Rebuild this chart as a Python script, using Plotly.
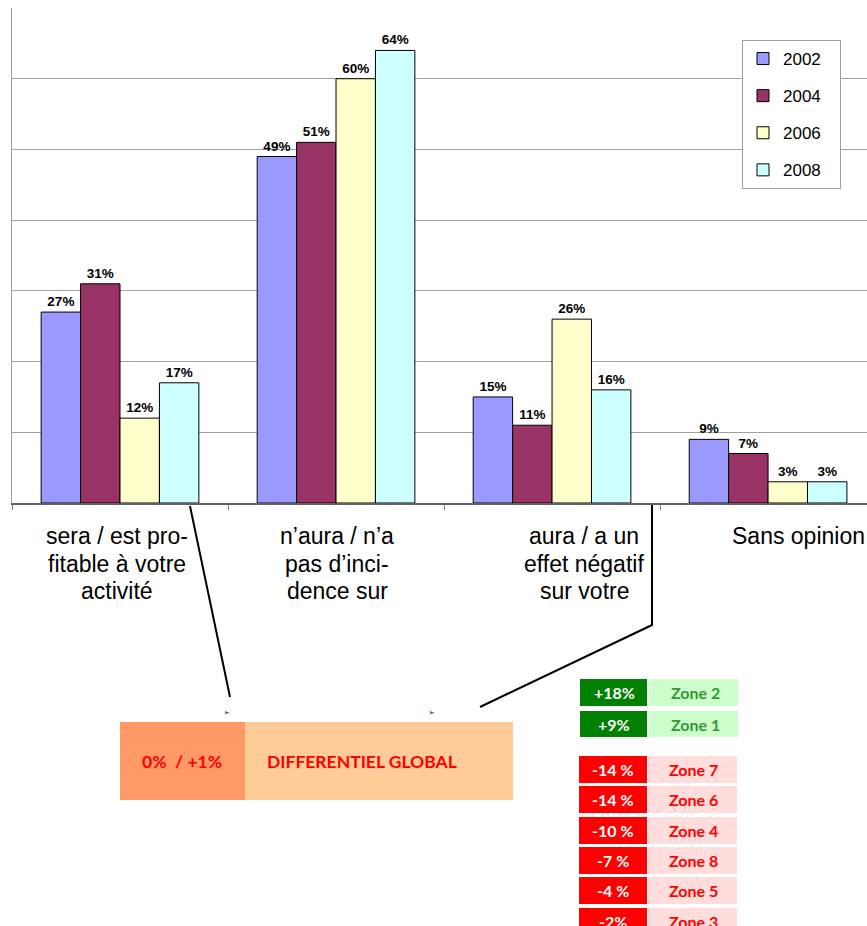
import plotly.graph_objects as go

categories = ["sera / est profitable", "n'aura / n'a pas d'incidence", "aura / a un effet négatif", "Sans opinion"]
cat_label_lines = [
    ["sera / est pro-", "fitable à votre", "activité"],
    ["n’aura / n’a", "pas d’inci-", "dence sur"],
    ["aura / a un", "effet négatif", "sur votre"],
    ["Sans opinion"],
]
years = ["2002", "2004", "2006", "2008"]
values = {
    "2002": [27, 49, 15, 9],
    "2004": [31, 51, 11, 7],
    "2006": [12, 60, 26, 3],
    "2008": [17, 64, 16, 3],
}
colors = {"2002": "#9999FF", "2004": "#993366", "2006": "#FFFFCC", "2008": "#CCFFFF"}

global_value = "0%  / +1%"
global_label = "DIFFERENTIEL GLOBAL"
zones_pos = ["Zone 2", "Zone 1"]
zones_pos_vals = ["+18%", "+9%"]
zones_neg = ["Zone 7", "Zone 6", "Zone 4", "Zone 8", "Zone 5", "Zone 3"]
zones_neg_vals = ["-14 %", "-14 %", "-10 %", "-7 %", "-4 %", "-2%"]

W, H = 867, 926
L, T, B_PX = 12, 8, 503
R_PX = W


def X(px):
    return (px - L) / (R_PX - L)


def Y(py):
    return (B_PX - py) / (B_PX - T)


fig = go.Figure()
for yr in years:
    fig.add_trace(go.Bar(
        x=categories, y=values[yr], name=yr + "\u00a0\u00a0\u00a0", legendgroup=yr,
        marker=dict(color=colors[yr], line=dict(color="#000000", width=1)),
        texttemplate="<b>%{y}%</b>", textposition="outside",
        textfont=dict(family="Liberation Sans", size=13.5, color="#000000"),
        constraintext="none", cliponaxis=False,
    ))

shapes = []
annotations = []

# category labels (one annotation per line)
shifts = [-3, 1, 32, None]
line_centers = [536, 564, 591]
for c, lines, s in zip(categories, cat_label_lines, shifts):
    for i, ln in enumerate(lines):
        if s is None:
            annotations.append(dict(
                x=X(730), xref="paper", y=Y(line_centers[i]), yref="paper",
                xanchor="left", yanchor="middle", text=ln, showarrow=False,
                font=dict(family="Liberation Sans", size=23, color="#000000"),
            ))
        else:
            annotations.append(dict(
                x=c, xref="x", y=Y(line_centers[i]), yref="paper",
                xanchor="center", yanchor="middle", text=ln, showarrow=False, xshift=s,
                font=dict(family="Liberation Sans", size=23, color="#000000"),
            ))

# connector lines
line_style = dict(color="#000000", width=2)
shapes.append(dict(type="line", xref="paper", yref="paper",
                   x0=X(190), y0=Y(506), x1=X(230), y1=Y(697), line=line_style))
shapes.append(dict(type="path", xref="paper", yref="paper",
                   path=f"M {X(652)},{Y(505)} L {X(652)},{Y(625)} L {X(480)},{Y(707)}",
                   line=line_style))
# small green remnants
for gx in (225, 430):
    shapes.append(dict(type="path", xref="paper", yref="paper",
                       path=f"M {X(gx)},{Y(711)} L {X(gx + 5)},{Y(713)} L {X(gx)},{Y(714)} Z",
                       fillcolor="#2E8B57", line=dict(width=0)))

# global differential box
shapes.append(dict(type="rect", xref="paper", yref="paper", x0=X(120), x1=X(245),
                   y0=Y(800), y1=Y(722), fillcolor="#FF9966", line=dict(width=0), layer="above"))
shapes.append(dict(type="rect", xref="paper", yref="paper", x0=X(245), x1=X(513),
                   y0=Y(800), y1=Y(722), fillcolor="#FFCC99", line=dict(width=0), layer="above"))
annotations.append(dict(x=X(182), y=Y(761), xref="paper", yref="paper", text=f"<b>{global_value}</b>",
                        showarrow=False, xanchor="center", yanchor="middle",
                        font=dict(family="Lato", size=17.5, color="#FF0000")))
annotations.append(dict(x=X(265), y=Y(761), xref="paper", yref="paper", text=f"<b>{global_label}</b>",
                        showarrow=False, xanchor="left", yanchor="middle",
                        font=dict(family="Lato", size=17.5, color="#FF0000")))

# zone table
pos_rows = [(679, 706), (711, 737)]
for (y0, y1), v, z in zip(pos_rows, zones_pos_vals, zones_pos):
    shapes.append(dict(type="rect", xref="paper", yref="paper", x0=X(580), x1=X(647),
                       y0=Y(y1), y1=Y(y0), fillcolor="#008000", line=dict(width=0)))
    shapes.append(dict(type="rect", xref="paper", yref="paper", x0=X(649), x1=X(738),
                       y0=Y(y1), y1=Y(y0), fillcolor="#CCFFCC", line=dict(width=0)))
    annotations.append(dict(x=X(614), y=Y((y0 + y1) / 2), xref="paper", yref="paper",
                            text=f"<b>{v}</b>", showarrow=False, xanchor="center", yanchor="middle",
                            font=dict(family="Lato", size=16, color="#FFFFFF")))
    annotations.append(dict(x=X(695), y=Y((y0 + y1) / 2), xref="paper", yref="paper",
                            text=f"<b>{z}</b>", showarrow=False, xanchor="center", yanchor="middle",
                            font=dict(family="Lato", size=16, color="#339933")))

neg_rows = [(756, 783), (786, 813), (817, 844), (847, 874), (877, 904), (908, 935)]
for (y0, y1), v, z in zip(neg_rows, zones_neg_vals, zones_neg):
    shapes.append(dict(type="rect", xref="paper", yref="paper", x0=X(579), x1=X(647),
                       y0=Y(y1), y1=Y(y0), fillcolor="#FF0000", line=dict(width=0)))
    shapes.append(dict(type="rect", xref="paper", yref="paper", x0=X(648), x1=X(737),
                       y0=Y(y1), y1=Y(y0), fillcolor="#FFDDDD", line=dict(width=0)))
    annotations.append(dict(x=X(613), y=Y((y0 + y1) / 2), xref="paper", yref="paper",
                            text=f"<b>{v}</b>", showarrow=False, xanchor="center", yanchor="middle",
                            font=dict(family="Lato", size=16, color="#FFFFFF")))
    annotations.append(dict(x=X(693), y=Y((y0 + y1) / 2), xref="paper", yref="paper",
                            text=f"<b>{z}</b>", showarrow=False, xanchor="center", yanchor="middle",
                            font=dict(family="Lato", size=16, color="#FF0000")))

fig.update_layout(
    width=W, height=H,
    margin=dict(l=L, r=W - R_PX, t=T, b=H - B_PX, pad=0),
    paper_bgcolor="#FFFFFF", plot_bgcolor="#FFFFFF",
    barmode="group", bargap=0.27, bargroupgap=0,
    showlegend=True,
    legend=dict(x=X(742), y=Y(40), xanchor="left", yanchor="top",
                bgcolor="#FFFFFF", bordercolor="#A0A0A0", borderwidth=1,
                font=dict(family="Liberation Sans", size=17, color="#000000"),
                traceorder="grouped", tracegroupgap=12, itemwidth=30),
    xaxis=dict(type="category", range=[-0.5, 3.458], showticklabels=False,
               showline=True, linecolor="#606060", linewidth=1.5,
               ticks="outside", tickson="boundaries", ticklen=5, tickcolor="#808080",
               showgrid=False, zeroline=False, fixedrange=True),
    yaxis=dict(range=[0, 70], tickvals=[10, 20, 30, 40, 50, 60], showticklabels=False,
               showgrid=True, gridcolor="#A0A0A0", gridwidth=1,
               showline=True, linecolor="#A0A0A0", linewidth=1, zeroline=False,
               ticks="", fixedrange=True),
    shapes=shapes, annotations=annotations,
)

fig.write_html(
    "out.html",
    config={"displayModeBar": False},
    post_script="document.body.style.margin='0px';document.body.style.overflow='hidden';",
)
